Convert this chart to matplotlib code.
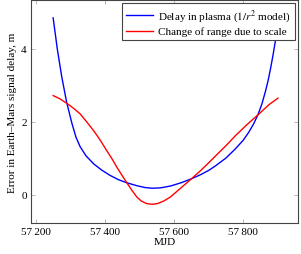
import matplotlib
matplotlib.use("Agg")
import matplotlib.pyplot as plt
from matplotlib.ticker import FuncFormatter

plt.rcParams["font.family"] = ["Liberation Serif", "DejaVu Serif"]
plt.rcParams["mathtext.fontset"] = "stix"
plt.rcParams["font.size"] = 8

# values
plasma_mjd = [57250, 57262, 57275, 57289, 57304, 57316, 57328, 57345, 57367, 57390,
              57415, 57440, 57463, 57492, 57515, 57536, 57560, 57589, 57620, 57650,
              57676, 57700, 57719, 57750, 57777, 57800, 57816, 57830, 57842, 57854,
              57864, 57872, 57879, 57886, 57893, 57900]
plasma_delay = [4.85, 4.00, 3.23, 2.54, 1.97, 1.58, 1.32, 1.07, 0.85, 0.68,
                0.53, 0.41, 0.33, 0.25, 0.20, 0.18, 0.19, 0.24, 0.33, 0.44,
                0.55, 0.67, 0.79, 1.01, 1.26, 1.50, 1.72, 1.95, 2.19, 2.50,
                2.84, 3.15, 3.48, 3.84, 4.24, 4.70]

scale_mjd = [57250, 57270, 57289, 57308, 57328, 57347, 57367, 57386, 57405, 57420,
             57434, 57448, 57463, 57478, 57492, 57505, 57520, 57536, 57552, 57570,
             57589, 57605, 57627, 57650, 57676, 57700, 57719, 57750, 57777, 57810,
             57842, 57874, 57900]
scale_range = [2.72, 2.63, 2.51, 2.38, 2.22, 2.00, 1.76, 1.50, 1.21, 0.99,
               0.76, 0.55, 0.33, 0.12, -0.06, -0.17, -0.24, -0.26, -0.24, -0.17,
               -0.06, 0.07, 0.25, 0.44, 0.66, 0.88, 1.06, 1.35, 1.62, 1.92,
               2.19, 2.47, 2.65]

fig = plt.figure(figsize=(3.01, 2.55), dpi=100)
ax = fig.add_axes([0.103, 0.122, 0.887, 0.874])

ax.plot(plasma_mjd, plasma_delay, color="#0000ff", lw=1.0,
        label=r"Delay in plasma ($1/r^2$ model)")
ax.plot(scale_mjd, scale_range, color="#ff0000", lw=1.0,
        label="Change of range due to scale")

ax.set_xlim(57186, 57958)
ax.set_ylim(-0.77, 5.34)
ax.set_xticks([57200, 57400, 57600, 57800])
ax.set_yticks([0, 2, 4])
ax.xaxis.set_major_formatter(FuncFormatter(lambda v, p: f"{int(v):,}".replace(",", "\u2009")))
ax.tick_params(direction="in", length=3, width=0.5, color="#999999",
               top=True, right=True, labelsize=8, pad=3)
for s in ax.spines.values():
    s.set_color("#444444")
    s.set_linewidth(0.8)

ax.set_xlabel("MJD", fontsize=8, labelpad=1)
ax.set_ylabel("Error in Earth\u2013Mars signal delay, m", fontsize=8, labelpad=3)

leg = ax.legend(loc="upper right", fontsize=8, handlelength=2.4, borderaxespad=0.3,
                fancybox=False, framealpha=1, edgecolor="#444444",
                borderpad=0.35, labelspacing=0.25, handletextpad=0.5)
leg.get_frame().set_linewidth(0.8)

fig.savefig("out.png", dpi=100)
